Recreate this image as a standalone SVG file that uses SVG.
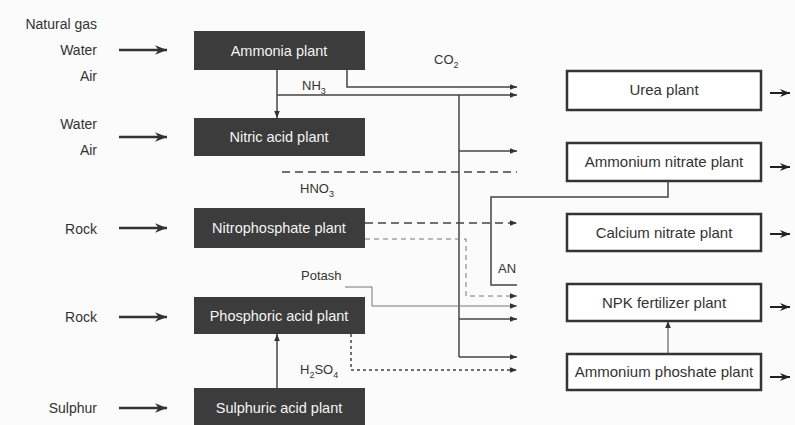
<svg xmlns="http://www.w3.org/2000/svg" width="795" height="425" viewBox="0 0 795 425">
<defs>
<marker id="ah" viewBox="0 0 10 10" refX="10" refY="5" markerWidth="7" markerHeight="7" markerUnits="userSpaceOnUse" orient="auto"><path d="M0,1 L10,5 L0,9 Z" fill="#333"/></marker>
<marker id="ahb" viewBox="0 0 10 10" refX="10" refY="5" markerWidth="12" markerHeight="12" markerUnits="userSpaceOnUse" orient="auto"><path d="M0,1 L10,5 L0,9 L3,5 Z" fill="#333"/></marker>
<marker id="ahr" viewBox="0 0 10 10" refX="10" refY="5" markerWidth="10" markerHeight="10" markerUnits="userSpaceOnUse" orient="auto"><path d="M0,1 L10,5 L0,9 L3,5 Z" fill="#222"/></marker>
<style>
text{font-family:"Liberation Sans","DejaVu Sans",sans-serif;fill:#333}
.lbl{font-size:14px;text-anchor:end}
.dk rect{fill:#3c3c3c}
.dk text{fill:#f4f4f4;font-size:14.5px;text-anchor:middle}
.wt rect{fill:#fff;stroke:#333;stroke-width:2.5}
.wt text{font-size:15px;text-anchor:middle}
.ln{fill:none;stroke:#444;stroke-width:1.5}
.in{fill:none;stroke:#333;stroke-width:2.5}
.out{fill:none;stroke:#222;stroke-width:2}
.dash{stroke-dasharray:8,5}
.fine{stroke-width:1;stroke:#777;stroke-dasharray:5,4}
.dot{stroke-dasharray:3,3}
.ml{font-size:13px}
</style>
</defs>
<rect width="795" height="425" fill="#fbfbfb"/>
<g id="inputs">
<text class="lbl" x="97" y="29">Natural gas</text>
<text class="lbl" x="97" y="55">Water</text>
<text class="lbl" x="97" y="81">Air</text>
<text class="lbl" x="97" y="129">Water</text>
<text class="lbl" x="97" y="155">Air</text>
<text class="lbl" x="97" y="234">Rock</text>
<text class="lbl" x="97" y="322">Rock</text>
<text class="lbl" x="97" y="413">Sulphur</text>
</g>
<g id="ammonia" class="dk"><rect x="194" y="31" width="171" height="39"/><text x="279" y="56">Ammonia plant</text></g>
<g id="nitric" class="dk"><rect x="194" y="118" width="171" height="38"/><text x="279" y="142">Nitric acid plant</text></g>
<g id="nitrophosphate" class="dk"><rect x="194" y="208" width="171" height="40"/><text x="279" y="233">Nitrophosphate plant</text></g>
<g id="phosphoric" class="dk"><rect x="194" y="297" width="171" height="37"/><text x="279" y="321">Phosphoric acid plant</text></g>
<g id="sulphuric" class="dk"><rect x="194" y="388" width="171" height="40"/><text x="279" y="413">Sulphuric acid plant</text></g>
<g id="urea" class="wt"><rect x="567" y="71" width="194" height="39"/><text x="664" y="95">Urea plant</text></g>
<g id="ammonium-nitrate" class="wt"><rect x="567" y="143" width="194" height="38"/><text x="664" y="167">Ammonium nitrate plant</text></g>
<g id="calcium-nitrate" class="wt"><rect x="567" y="214" width="194" height="37"/><text x="664" y="238">Calcium nitrate plant</text></g>
<g id="npk" class="wt"><rect x="567" y="284" width="194" height="37"/><text x="664" y="308">NPK fertilizer plant</text></g>
<g id="ammonium-phosphate" class="wt"><rect x="567" y="354" width="194" height="36"/><text x="664" y="377">Ammonium phoshate plant</text></g>
<g id="connectors">
<path class="in" d="M119,50H167" marker-end="url(#ahb)"/>
<path class="in" d="M119,137H167" marker-end="url(#ahb)"/>
<path class="in" d="M119,228H167" marker-end="url(#ahb)"/>
<path class="in" d="M119,317H167" marker-end="url(#ahb)"/>
<path class="in" d="M119,408H167" marker-end="url(#ahb)"/>
<path class="ln" d="M277,70V118" marker-end="url(#ah)"/>
<path class="ln" d="M277,95H517" marker-end="url(#ah)"/>
<path class="ln" d="M347,70V87H517" marker-end="url(#ah)"/>
<path class="ln" d="M459,95V357"/>
<path class="ln" d="M459,151H517" marker-end="url(#ah)"/>
<path class="ln" d="M459,319H517" marker-end="url(#ah)"/>
<path class="ln" d="M459,357H517" marker-end="url(#ah)"/>
<path class="ln dash" d="M282,172H517"/>
<path class="ln dash" d="M365,223H517" marker-end="url(#ah)"/>
<path class="ln fine" d="M365,239H466V296H517" marker-end="url(#ah)"/>
<path class="ln" d="M668,181V197H491V285H517"/>
<path class="ln" style="stroke-width:1;stroke:#777" d="M345,287H372V306H517" marker-end="url(#ah)"/>
<path class="ln dot" d="M351,334V370H517" marker-end="url(#ah)"/>
<path class="ln" d="M277,388V334" marker-end="url(#ah)"/>
<path class="ln" style="stroke-width:1" d="M668,354V321" marker-end="url(#ah)"/>
<path class="out" d="M770,93H790" marker-end="url(#ahr)"/>
<path class="out" d="M770,167H790" marker-end="url(#ahr)"/>
<path class="out" d="M770,234H790" marker-end="url(#ahr)"/>
<path class="out" d="M770,307H790" marker-end="url(#ahr)"/>
<path class="out" d="M770,377H790" marker-end="url(#ahr)"/>
</g>
<g id="labels">
<text class="ml" x="434" y="64">CO<tspan font-size="9" dy="4">2</tspan></text>
<text class="ml" x="302" y="90">NH<tspan font-size="9" dy="4">3</tspan></text>
<text class="ml" x="300" y="193">HNO<tspan font-size="9" dy="4">3</tspan></text>
<text class="ml" x="301" y="280">Potash</text>
<text class="ml" x="300" y="374">H<tspan font-size="9" dy="4">2</tspan><tspan dy="-4">SO</tspan><tspan font-size="9" dy="4">4</tspan></text>
<text class="ml" x="498" y="273">AN</text>
</g>
</svg>
